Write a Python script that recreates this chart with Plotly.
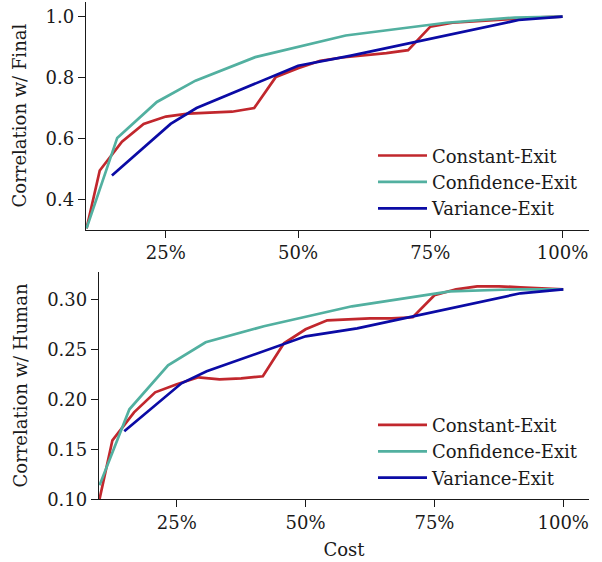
import plotly.graph_objects as go

# ---- data ----
tick_vals = [0.25, 0.50, 0.75, 1.00]
tick_text = ["25%", "50%", "75%", "100%"]

constant_cost = [0.10, 0.125, 0.167, 0.208, 0.25, 0.292, 0.333, 0.375, 0.417, 0.458, 0.50,
                 0.542, 0.583, 0.625, 0.667, 0.708, 0.75, 0.792, 0.833, 0.875, 0.917, 0.958, 1.0]
constant_final = [0.305, 0.495, 0.590, 0.648, 0.672, 0.682, 0.685, 0.688, 0.700, 0.802, 0.831,
                  0.855, 0.866, 0.873, 0.880, 0.890, 0.967, 0.980, 0.985, 0.990, 0.995, 0.998, 1.0]
constant_human = [0.100, 0.159, 0.187, 0.207, 0.215, 0.222, 0.220, 0.221, 0.223, 0.256, 0.270,
                  0.279, 0.280, 0.281, 0.281, 0.282, 0.304, 0.310, 0.313, 0.313, 0.312, 0.311, 0.310]

confidence_cost = [0.10, 0.158, 0.233, 0.306, 0.419, 0.590, 0.78, 0.91, 1.0]
confidence_final = [0.305, 0.602, 0.720, 0.790, 0.867, 0.938, 0.980, 0.997, 1.0]
confidence_human = [0.114, 0.190, 0.234, 0.257, 0.273, 0.293, 0.308, 0.310, 0.310]

variance_cost = [0.148, 0.259, 0.308, 0.50, 0.60, 0.917, 1.0]
variance_final = [0.479, 0.648, 0.700, 0.839, 0.872, 0.989, 1.0]
variance_human = [0.168, 0.216, 0.228, 0.263, 0.271, 0.306, 0.310]

names = ["Constant-Exit", "Confidence-Exit", "Variance-Exit"]
colors = ["#c1272d", "#52b0a0", "#0b0ba5"]

FONT = "DejaVu Serif"
INK = "#1a1a1a"

fig = go.Figure()
series = [
    (constant_cost, constant_final, constant_human),
    (confidence_cost, confidence_final, confidence_human),
    (variance_cost, variance_final, variance_human),
]
for i, (cx, yf, yh) in enumerate(series):
    fig.add_trace(go.Scatter(x=cx, y=yf, mode="lines", name=names[i],
                             line=dict(color=colors[i], width=2.7),
                             xaxis="x", yaxis="y", legend="legend",
                             legendgroup="t%d" % i))
    fig.add_trace(go.Scatter(x=cx, y=yh, mode="lines", name=names[i],
                             line=dict(color=colors[i], width=2.7),
                             xaxis="x2", yaxis="y2", legend="legend2",
                             legendgroup="b%d" % i))

W, H = 602, 562

axis_common = dict(showline=True, linecolor=INK, linewidth=1.3, ticks="outside",
                   ticklen=7, tickwidth=1.3, tickcolor=INK, showgrid=False,
                   zeroline=False, mirror=False, automargin=False,
                   tickfont=dict(family=FONT, size=18, color=INK))

legend_common = dict(font=dict(family=FONT, size=18, color=INK), bgcolor="rgba(0,0,0,0)",
                     borderwidth=0, xanchor="left", yanchor="middle", tracegroupgap=0,
                     itemwidth=49)

fig.update_layout(
    width=W, height=H,
    margin=dict(l=0, r=0, t=0, b=0, autoexpand=False),
    paper_bgcolor="white", plot_bgcolor="white",
    xaxis=dict(domain=[86 / W, 589 / W], range=[0.099, 1.05], anchor="y",
               tickvals=tick_vals, ticktext=tick_text, **axis_common),
    yaxis=dict(domain=[(H - 229.5) / H, (H - 1.7) / H], range=[0.3015, 1.049], anchor="x",
               tickvals=[0.4, 0.6, 0.8, 1.0], ticktext=["0.4", "0.6", "0.8", "1.0"],
               title=dict(text="Correlation w/ Final", font=dict(family=FONT, size=18, color=INK),
                          standoff=14),
               **axis_common),
    xaxis2=dict(domain=[99 / W, 589 / W], range=[0.099, 1.05], anchor="y2",
                tickvals=tick_vals, ticktext=tick_text,
                title=dict(text="Cost", font=dict(family=FONT, size=18, color=INK), standoff=11),
                **axis_common),
    yaxis2=dict(domain=[(H - 499.3) / H, (H - 271.7) / H], range=[0.10, 0.3276], anchor="x2",
                tickvals=[0.10, 0.15, 0.20, 0.25, 0.30],
                ticktext=["0.10", "0.15", "0.20", "0.25", "0.30"],
                title=dict(text="Correlation w/ Human", font=dict(family=FONT, size=18, color=INK),
                           standoff=14),
                **axis_common),
    legend=dict(x=373 / W, y=(H - 182.3) / H, **legend_common),
    legend2=dict(x=373 / W, y=(H - 451.7) / H, **legend_common),
    showlegend=True,
)

fig.write_html("out.html", config={"displayModeBar": False},
               post_script="document.body.style.margin='0';")
